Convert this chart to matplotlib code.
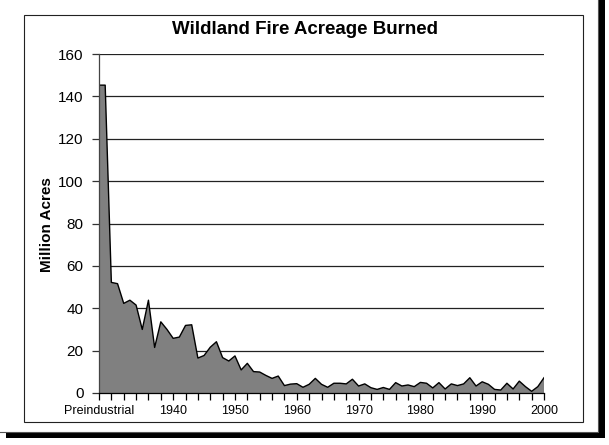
import matplotlib
matplotlib.use("Agg")
import matplotlib.pyplot as plt
from matplotlib.patches import Rectangle
from matplotlib.lines import Line2D

plt.rcParams['font.family'] = ['Liberation Sans', 'DejaVu Sans']

# ---- data ----
categories = ["Preindustrial"] + [str(y) for y in range(1929, 2001)]
acres = [145.3, 145.3, 52.2, 51.6, 42.3, 43.8, 41.5, 30.0, 43.8, 21.5,
         33.6, 30.0, 25.8, 26.4, 31.9, 32.2, 16.5, 17.7, 21.6, 24.2,
         16.7, 15.1, 17.5, 10.9, 14.0, 10.1, 9.9, 8.3, 6.9, 8.0,
         3.5, 4.2, 4.4, 2.7, 4.1, 6.9, 4.1, 2.7, 4.6, 4.6,
         4.3, 6.5, 3.3, 4.3, 2.5, 1.7, 2.6, 1.7, 4.9, 3.3,
         3.8, 3.0, 5.0, 4.6, 2.4, 4.9, 1.9, 4.3, 3.5, 4.3,
         7.2, 3.3, 5.3, 4.1, 1.7, 1.4, 4.6, 1.9, 5.6, 3.0,
         0.8, 3.0, 7.2]
label_cats = ["Preindustrial", "1940", "1950", "1960", "1970", "1980", "1990", "2000"]
yticks = [0, 20, 40, 60, 80, 100, 120, 140, 160]
title = "Wildland Fire Acreage Burned"
ylabel = "Million Acres"

W, H = 609, 445
fig = plt.figure(figsize=(W / 100, H / 100), dpi=100)

def fx(px):
    return px / W

def fy(py):
    return 1 - py / H

ax = fig.add_axes([fx(99), fy(393), fx(544) - fx(99), fy(54) - fy(393)])
x = list(range(len(categories)))
ax.fill_between(x, acres, 0, facecolor='#808080', edgecolor='none', zorder=2)
ax.plot(x, acres, color='black', lw=1.0, zorder=3)
ax.set_xlim(0, len(categories) - 1)
ax.set_ylim(yticks[0], yticks[-1])
for yv in yticks[1:]:
    ax.axhline(yv, color='#222222', lw=0.9, zorder=1)

ax.set_yticks(yticks)
ax.set_yticklabels([str(v) for v in yticks], fontsize=11)
xt = list(range(0, len(categories), 2))
ax.set_xticks(xt)
ax.set_xticklabels([categories[i] if categories[i] in label_cats else "" for i in xt], fontsize=9)
ax.tick_params(axis='y', direction='out', length=5, width=0.9, color='#333333', pad=6)
ax.tick_params(axis='x', direction='out', length=5, width=0.9, color='black', pad=4)

for s in ['top', 'right']:
    ax.spines[s].set_visible(False)
ax.spines['left'].set_color('#444444')
ax.spines['left'].set_linewidth(0.9)
ax.spines['bottom'].set_color('black')
ax.spines['bottom'].set_linewidth(0.9)
ax.spines['left'].set_zorder(4)
ax.spines['bottom'].set_zorder(4)

fig.text(fx(305), fy(30), title, ha='center', va='center', fontsize=13.5, fontweight='bold')
fig.text(fx(47), fy(225), ylabel, ha='center', va='center', rotation=90, fontsize=11, fontweight='bold')

# inner frame
fig.patches.append(Rectangle((fx(24), fy(422)), fx(583) - fx(24), fy(15) - fy(422),
                             fill=False, edgecolor='#222222', lw=0.8, transform=fig.transFigure))
# outer frame with shadow
fig.lines.append(Line2D([fx(0), fx(598), fx(598)], [fy(432), fy(432), fy(0)],
                        color='#555555', lw=0.8, transform=fig.transFigure))
fig.patches.append(Rectangle((fx(599), fy(438)), fx(605) - fx(599), fy(0) - fy(438),
                             facecolor='black', edgecolor='none', transform=fig.transFigure))
fig.patches.append(Rectangle((fx(6), fy(438)), fx(605) - fx(6), fy(433) - fy(438),
                             facecolor='black', edgecolor='none', transform=fig.transFigure))

fig.savefig("out.png", dpi=100)
